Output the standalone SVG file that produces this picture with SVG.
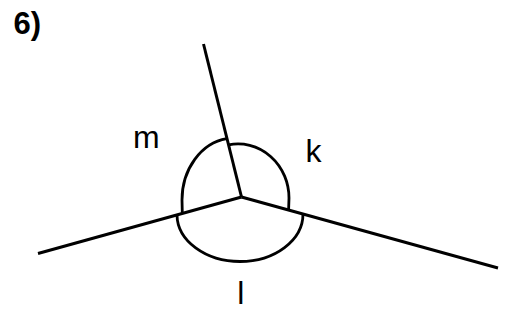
<svg xmlns="http://www.w3.org/2000/svg" width="511" height="323" viewBox="0 0 511 323">
<style>
.ln{stroke:#000;stroke-width:3;fill:none}
.arc{stroke:#000;stroke-width:2.8;fill:none}
.lbl{font-family:"Liberation Sans",Arial,sans-serif;font-size:32px;fill:#000}
.ttl{font-family:"Liberation Sans",Arial,sans-serif;font-size:31px;font-weight:bold;fill:#000}
</style>
<rect width="511" height="323" fill="#fff"/>
<text class="ttl" x="13.5" y="33.5">6)</text>
<g id="connectors">
<line class="ln" x1="203.5" y1="44" x2="241.5" y2="197"/>
<line class="ln" x1="38" y1="253.5" x2="241.5" y2="197"/>
<line class="ln" x1="498" y1="268" x2="241.5" y2="197"/>
</g>
<g id="angle-m">
<path class="arc" d="M226.8,138.6 A52,62 0 0 0 182,200 L182.3,213.2"/>
<text class="lbl" x="133" y="148.3">m</text>
</g>
<g id="angle-k">
<path class="arc" d="M228.6,144.9 A51,54 0 0 1 289,198 L288.6,210"/>
<text class="lbl" x="305.5" y="161.7">k</text>
</g>
<g id="angle-l">
<path class="arc" d="M177,215 A63,47 0 0 0 240,261.5 A63,47.5 0 0 0 303,214"/>
<text class="lbl" x="237.3" y="304.3">l</text>
</g>
</svg>
